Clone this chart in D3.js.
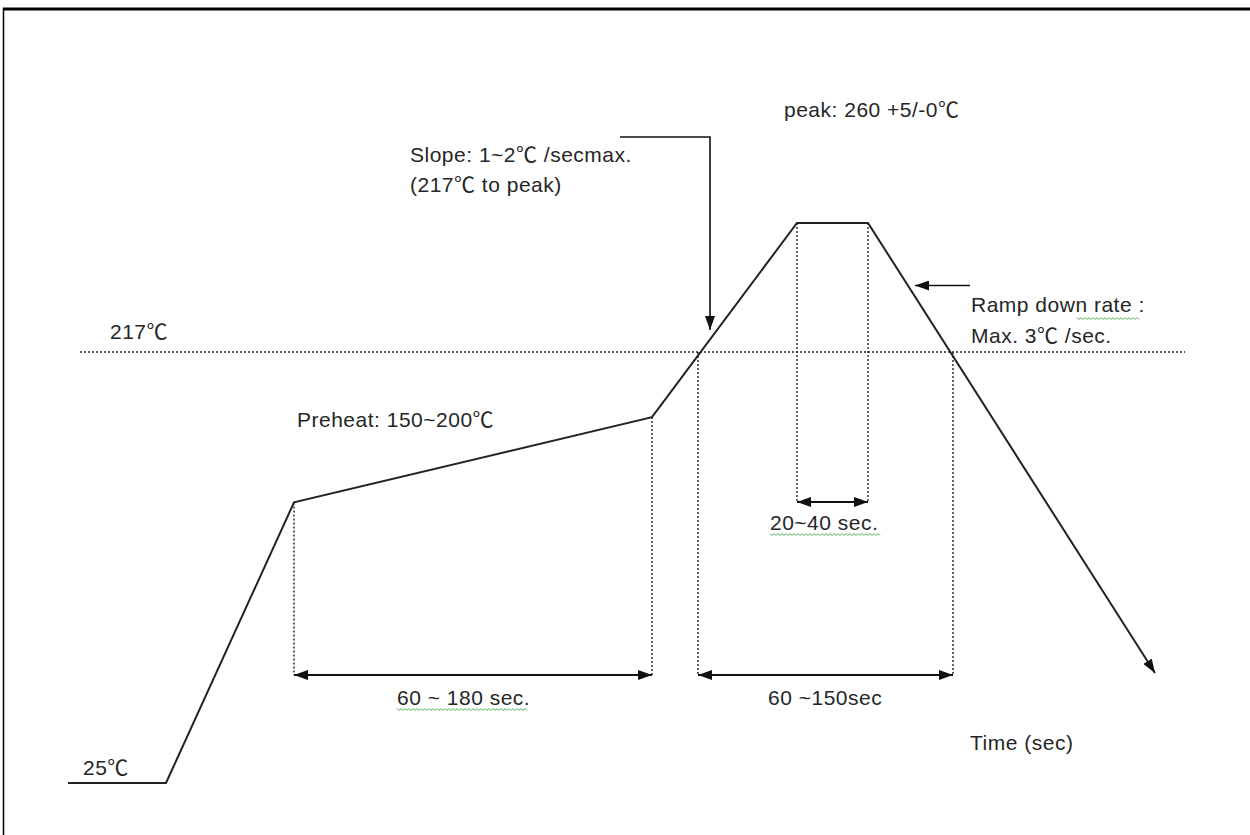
<!DOCTYPE html>
<html><head><meta charset="utf-8">
<script src="https://cdn.jsdelivr.net/npm/d3@7"></script>
<style>
html,body{margin:0;padding:0;background:#fff;}
text{font-family:"Liberation Sans",Arial,"Noto Sans CJK SC",sans-serif;font-size:21px;letter-spacing:0.5px;fill:#262626;}
</style></head>
<body>
<svg id="chart" width="1250" height="835"></svg>
<script>
// ---- data (schematic reflow profile) ----
const profileTime = [0, 39.2, 90.4, 233.6, 291.6, 320, 434.8];   // sec (schematic)
const profileTemp = [25, 25, 150, 188, 274.5, 274.5, 74];        // degC
const liquidusTemp = 217;
const liquidusSpan = [4.8, 446.8];          // time extent of the 217 line
const riseCross = 252;                      // time where profile crosses 217 rising
const fallCross = 354;                      // time where profile crosses 217 falling
const spanTemp = 73.1;                      // level of the duration arrows
const peakSpanTemp = 150.2;                 // level of the 20~40 sec arrow
const labels = {
  peak: "peak: 260 +5/-0℃",
  slope1: "Slope: 1~2℃ /secmax.",
  slope2: "(217℃ to peak)",
  liq: "217℃",
  ramp1: "Ramp down rate :",
  ramp2: "Max. 3℃ /sec.",
  preheat: "Preheat: 150~200℃",
  peakDur: "20~40 sec.",
  preDur: "60 ~ 180 sec.",
  liqDur: "60 ~150sec",
  time: "Time (sec)",
  base: "25℃"
};

const svg = d3.select("#chart");
const x = d3.scaleLinear().domain([0, 450]).range([68, 1193]);
const y = d3.scaleLinear().domain([25, 217]).range([783, 352]);

// frame
svg.append("line").attr("x1",3).attr("y1",9).attr("x2",1250).attr("y2",9).attr("stroke","#000").attr("stroke-width",3);
svg.append("line").attr("x1",3.5).attr("y1",8).attr("x2",3.5).attr("y2",835).attr("stroke","#000").attr("stroke-width",1.5);

const defs = svg.append("defs");
defs.append("marker").attr("id","arr").attr("viewBox","0 0 14 10").attr("refX",14).attr("refY",5)
  .attr("markerWidth",14).attr("markerHeight",10).attr("markerUnits","userSpaceOnUse").attr("orient","auto-start-reverse")
  .append("path").attr("d","M0,0 L14,5 L0,10 Z").attr("fill","#111");

function dline(x1,y1,x2,y2){
  return svg.append("line").attr("x1",x1).attr("y1",y1).attr("x2",x2).attr("y2",y2)
    .attr("stroke","#222").attr("stroke-width",1.4).attr("stroke-dasharray","2,2");
}

// 217 line
dline(x(liquidusSpan[0]), y(liquidusTemp), x(liquidusSpan[1]), y(liquidusTemp));

// dotted verticals
dline(x(profileTime[2]), y(profileTemp[2]), x(profileTime[2]), y(spanTemp));
dline(x(profileTime[3]), y(profileTemp[3]), x(profileTime[3]), y(spanTemp));
dline(x(riseCross), y(liquidusTemp), x(riseCross), y(spanTemp));
dline(x(fallCross), y(liquidusTemp), x(fallCross), y(spanTemp));
dline(x(profileTime[4]), y(profileTemp[4]), x(profileTime[4]), y(peakSpanTemp));
dline(x(profileTime[5]), y(profileTemp[5]), x(profileTime[5]), y(peakSpanTemp));

// profile
const pts = profileTime.map((t,i)=>[x(t), y(profileTemp[i])]);
svg.append("path").attr("d", d3.line()(pts)).attr("fill","none").attr("stroke","#222")
  .attr("stroke-width",2).attr("stroke-linejoin","miter").attr("marker-end","url(#arr)");

// double arrows
function dbl(t1,t2,temp){
  svg.append("line").attr("x1",x(t1)).attr("y1",y(temp)).attr("x2",x(t2)).attr("y2",y(temp))
    .attr("stroke","#111").attr("stroke-width",2).attr("marker-start","url(#arr)").attr("marker-end","url(#arr)");
}
dbl(profileTime[2], profileTime[3], spanTemp);
dbl(riseCross, fallCross, spanTemp);
dbl(profileTime[4], profileTime[5], peakSpanTemp);

// slope pointer
const slX0 = x(220.8), slX1 = x(256.8), slY0 = y(312.8), slY1 = y(226.8);
svg.append("path").attr("d", d3.line()([[slX0,slY0],[slX1,slY0],[slX1,slY1]]))
  .attr("fill","none").attr("stroke","#111").attr("stroke-width",1.6).attr("marker-end","url(#arr)");
// ramp pointer
svg.append("line").attr("x1",x(360.8)).attr("y1",y(246.6)).attr("x2",x(338.8)).attr("y2",y(246.6))
  .attr("stroke","#111").attr("stroke-width",1.6).attr("marker-end","url(#arr)");

// labels
function txt(s,px,py){ return svg.append("text").attr("x",px).attr("y",py).text(s); }
txt(labels.peak, 784, 117);
txt(labels.slope1, 410, 162);
txt(labels.slope2, 410, 192);
txt(labels.liq, 110, 339);
txt(labels.ramp1, 971, 312);
txt(labels.ramp2, 971, 343);
txt(labels.preheat, 297, 427);
txt(labels.peakDur, 770, 530);
txt(labels.preDur, 397, 705);
txt(labels.liqDur, 768, 705);
txt(labels.time, 970, 750);
txt(labels.base, 83, 775);

// spell-check squiggles
function squiggle(x0,x1,yy){
  const p=[]; for(let xx=x0, k=0; xx<=x1; xx+=2, k++) p.push([xx, yy + (k%2? 1.5:-0.5)]);
  svg.append("path").attr("d", d3.line()(p)).attr("fill","none").attr("stroke","#4caf50").attr("stroke-width",1);
}
squiggle(1077, 1140, 318);
squiggle(770, 880, 534);
squiggle(397, 528, 709);
</script>
</body></html>
